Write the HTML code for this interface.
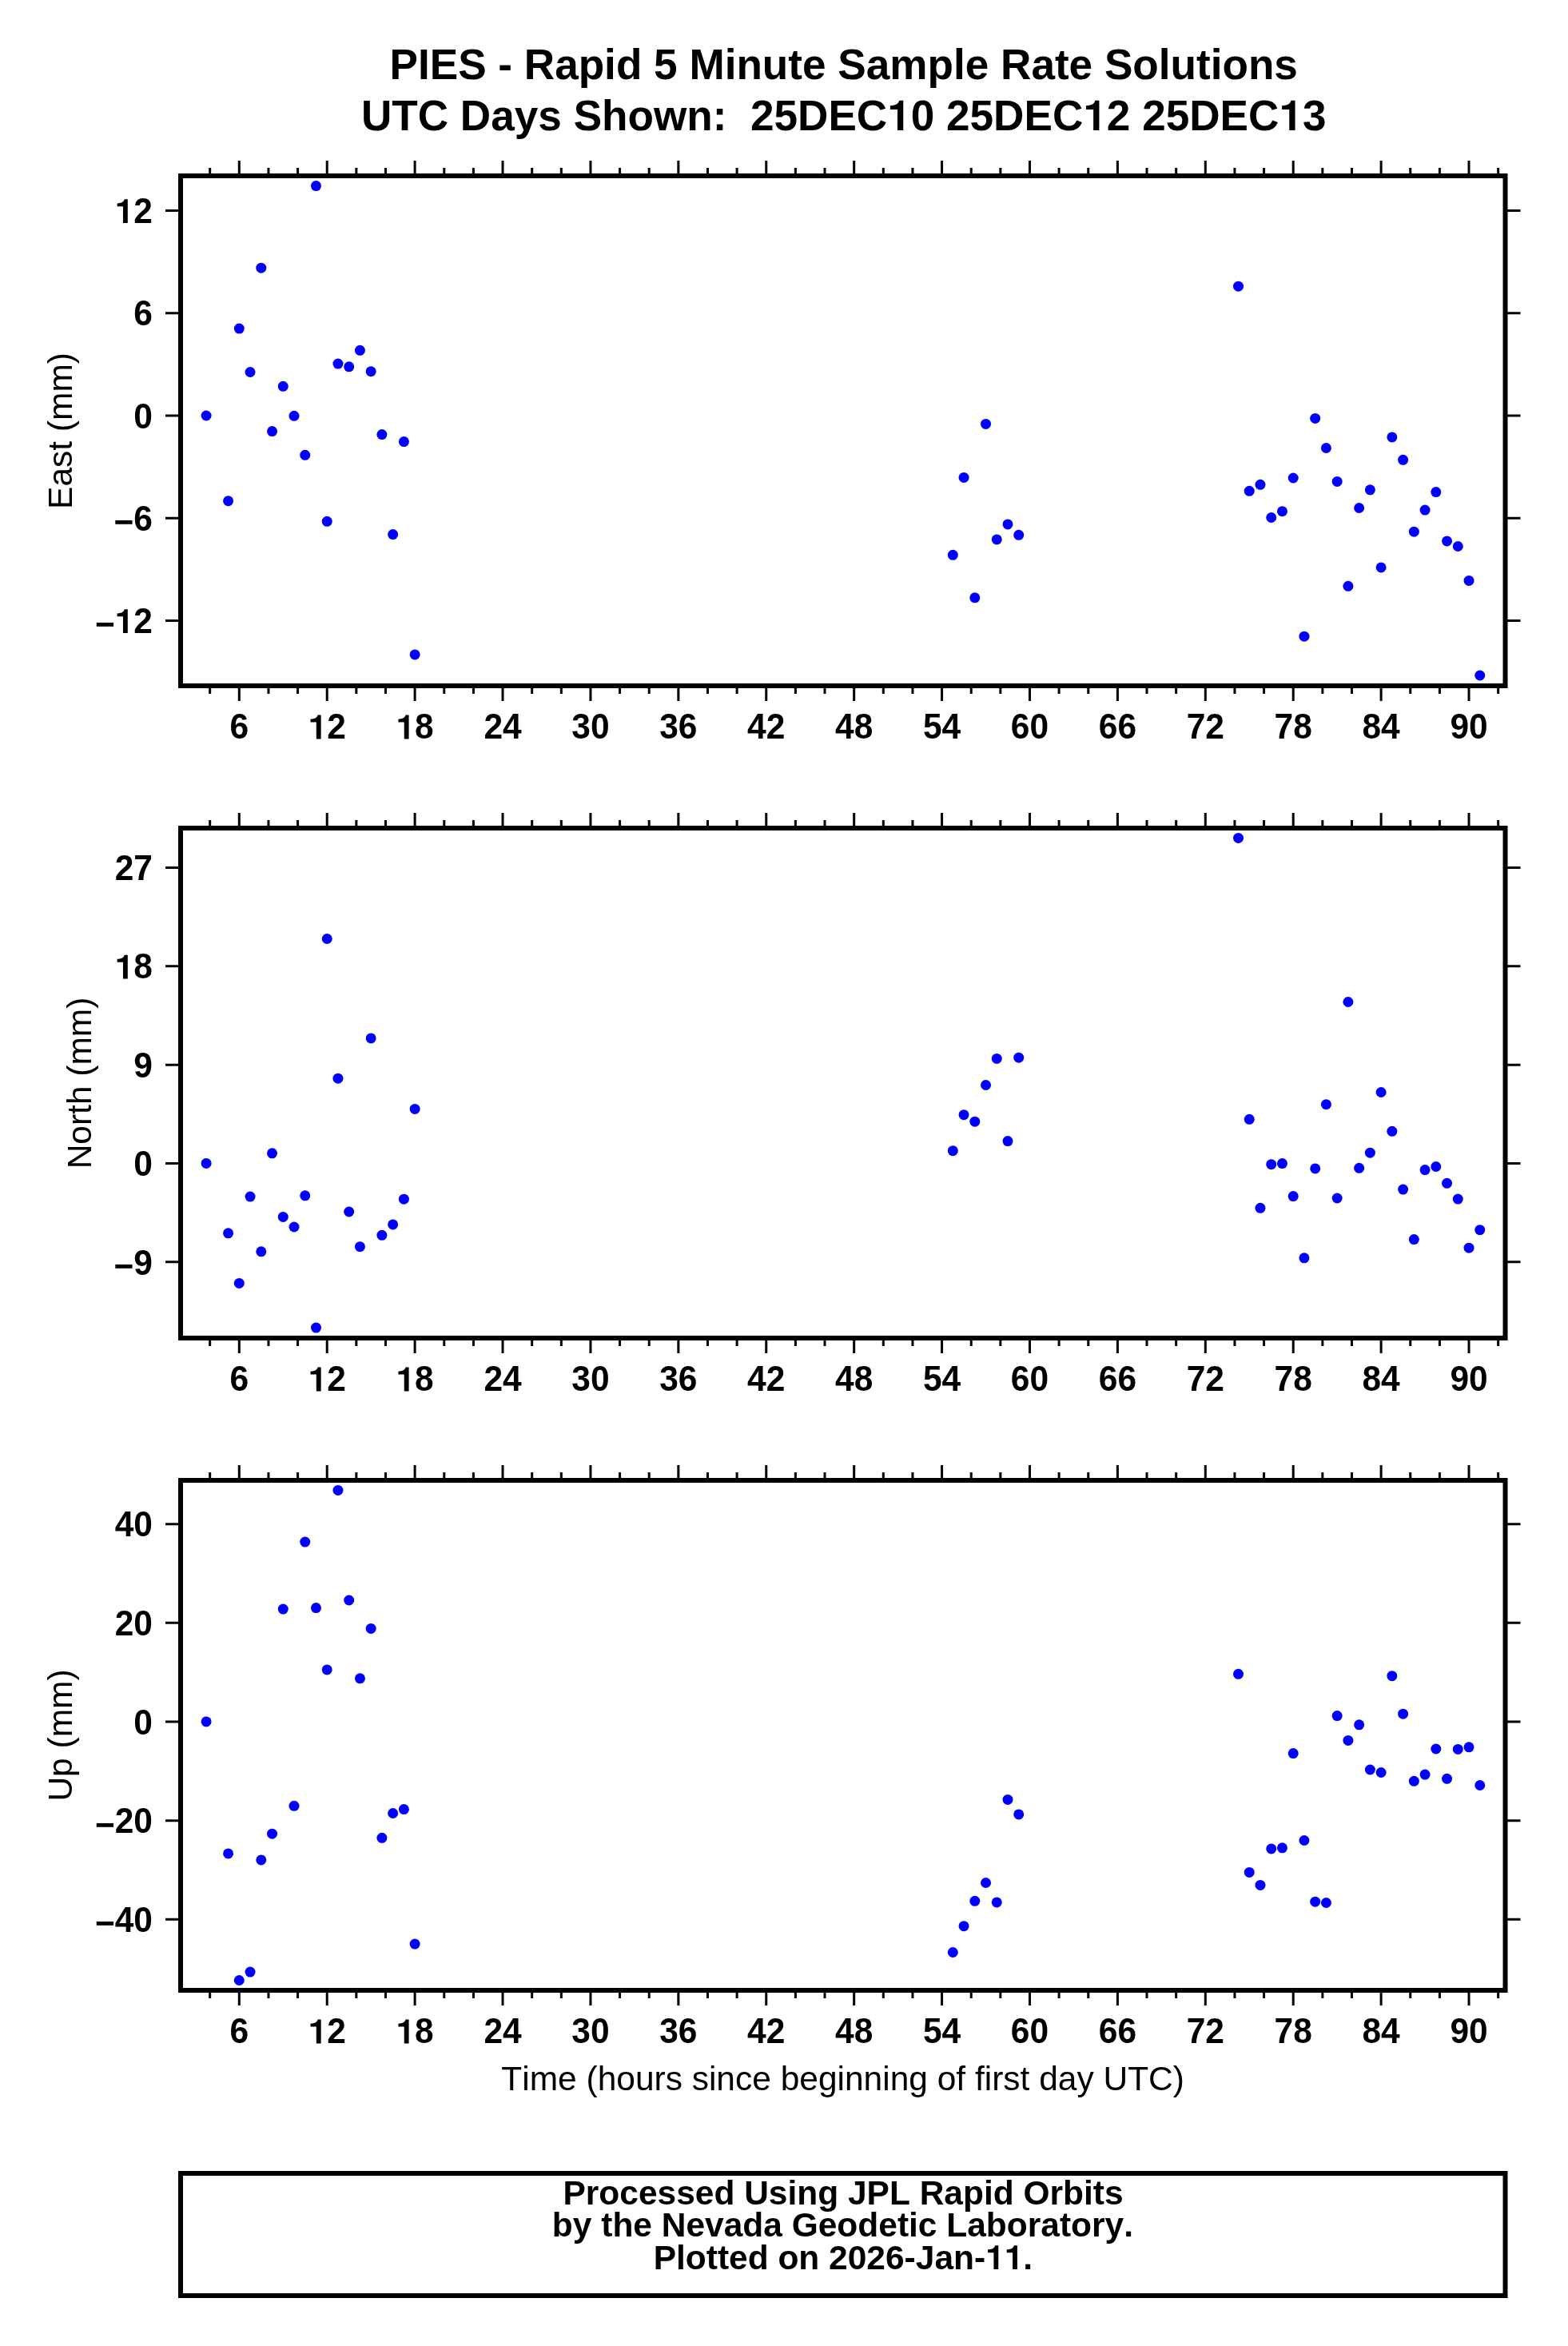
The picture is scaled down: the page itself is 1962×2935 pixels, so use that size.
<!DOCTYPE html>
<html><head><meta charset="utf-8"><title>PIES - Rapid 5 Minute Sample Rate Solutions</title>
<style>html,body{margin:0;padding:0;background:#fff;}body{width:1962px;height:2935px;overflow:hidden;}svg{display:block;will-change:transform;}text{font-family:"Liberation Sans",sans-serif;font-kerning:none;fill:#000;}.b{font-weight:bold;}</style></head><body>
<svg width="1962" height="2935" viewBox="0 0 1962 2935">
<rect x="0" y="0" width="1962" height="2935" fill="#fff"/>
<text class="b" transform="translate(1055.7,99.2) scale(1,1.02)" font-size="53.13" text-anchor="middle">PIES - Rapid 5 Minute Sample Rate Solutions</text>
<text class="b" transform="translate(1055.7,163) scale(1,1.02)" font-size="53.13" text-anchor="middle">UTC&#160;Days&#160;Shown:&#160;&#160;25DEC 0&#160;25DEC 2&#160;25DEC 3</text>
<path transform="translate(1110.19,163) scale(0.05313,-0.05313)" d="M378 0L378 702L282 702C264 635 218 588 69 581L69 490L241 490L241 0Z"/>
<path transform="translate(1355.32,163) scale(0.05313,-0.05313)" d="M378 0L378 702L282 702C264 635 218 588 69 581L69 490L241 490L241 0Z"/>
<path transform="translate(1600.45,163) scale(0.05313,-0.05313)" d="M378 0L378 702L282 702C264 635 218 588 69 581L69 490L241 490L241 0Z"/>
<path d="M262.67 220V210M262.67 858V868M299.31 220V201M299.31 858V877M335.94 220V210M335.94 858V868M372.58 220V210M372.58 858V868M409.22 220V201M409.22 858V877M445.85 220V210M445.85 858V868M482.49 220V210M482.49 858V868M519.12 220V201M519.12 858V877M555.76 220V210M555.76 858V868M592.4 220V210M592.4 858V868M629.03 220V201M629.03 858V877M665.67 220V210M665.67 858V868M702.3 220V210M702.3 858V868M738.94 220V201M738.94 858V877M775.58 220V210M775.58 858V868M812.21 220V210M812.21 858V868M848.85 220V201M848.85 858V877M885.48 220V210M885.48 858V868M922.12 220V210M922.12 858V868M958.76 220V201M958.76 858V877M995.39 220V210M995.39 858V868M1032.03 220V210M1032.03 858V868M1068.66 220V201M1068.66 858V877M1105.3 220V210M1105.3 858V868M1141.94 220V210M1141.94 858V868M1178.57 220V201M1178.57 858V877M1215.21 220V210M1215.21 858V868M1251.84 220V210M1251.84 858V868M1288.48 220V201M1288.48 858V877M1325.12 220V210M1325.12 858V868M1361.75 220V210M1361.75 858V868M1398.39 220V201M1398.39 858V877M1435.02 220V210M1435.02 858V868M1471.66 220V210M1471.66 858V868M1508.3 220V201M1508.3 858V877M1544.93 220V210M1544.93 858V868M1581.57 220V210M1581.57 858V868M1618.2 220V201M1618.2 858V877M1654.84 220V210M1654.84 858V868M1691.48 220V210M1691.48 858V868M1728.11 220V201M1728.11 858V877M1764.75 220V210M1764.75 858V868M1801.38 220V210M1801.38 858V868M1838.02 220V201M1838.02 858V877M1874.66 220V210M1874.66 858V868M226 776.4H207M1883.5 776.4H1902.5M226 648.15H207M1883.5 648.15H1902.5M226 519.9H207M1883.5 519.9H1902.5M226 391.65H207M1883.5 391.65H1902.5M226 263.4H207M1883.5 263.4H1902.5" stroke="#000" stroke-width="3" fill="none"/>
<rect x="226" y="220" width="1657.5" height="638" fill="none" stroke="#000" stroke-width="6" stroke-linejoin="miter"/>
<text class="b" transform="translate(299.31,924.4) scale(1,1.05)" font-size="42.5" text-anchor="middle">6</text>
<text class="b" transform="translate(409.22,924.4) scale(1,1.05)" font-size="42.5" text-anchor="middle"> 2</text>
<path transform="translate(385.58,924.4) scale(0.04250,-0.04250)" d="M378 0L378 702L282 702C264 635 218 588 69 581L69 490L241 490L241 0Z"/>
<text class="b" transform="translate(519.12,924.4) scale(1,1.05)" font-size="42.5" text-anchor="middle"> 8</text>
<path transform="translate(495.49,924.4) scale(0.04250,-0.04250)" d="M378 0L378 702L282 702C264 635 218 588 69 581L69 490L241 490L241 0Z"/>
<text class="b" transform="translate(629.03,924.4) scale(1,1.05)" font-size="42.5" text-anchor="middle">24</text>
<text class="b" transform="translate(738.94,924.4) scale(1,1.05)" font-size="42.5" text-anchor="middle">30</text>
<text class="b" transform="translate(848.85,924.4) scale(1,1.05)" font-size="42.5" text-anchor="middle">36</text>
<text class="b" transform="translate(958.76,924.4) scale(1,1.05)" font-size="42.5" text-anchor="middle">42</text>
<text class="b" transform="translate(1068.66,924.4) scale(1,1.05)" font-size="42.5" text-anchor="middle">48</text>
<text class="b" transform="translate(1178.57,924.4) scale(1,1.05)" font-size="42.5" text-anchor="middle">54</text>
<text class="b" transform="translate(1288.48,924.4) scale(1,1.05)" font-size="42.5" text-anchor="middle">60</text>
<text class="b" transform="translate(1398.39,924.4) scale(1,1.05)" font-size="42.5" text-anchor="middle">66</text>
<text class="b" transform="translate(1508.3,924.4) scale(1,1.05)" font-size="42.5" text-anchor="middle">72</text>
<text class="b" transform="translate(1618.2,924.4) scale(1,1.05)" font-size="42.5" text-anchor="middle">78</text>
<text class="b" transform="translate(1728.11,924.4) scale(1,1.05)" font-size="42.5" text-anchor="middle">84</text>
<text class="b" transform="translate(1838.02,924.4) scale(1,1.05)" font-size="42.5" text-anchor="middle">90</text>
<text class="b" transform="translate(191,792.1) scale(1,1.05)" font-size="42.5" text-anchor="end"><tspan dy="4.1">&#8722;</tspan><tspan dy="-4.1"> 2</tspan></text>
<path transform="translate(143.73,792.1) scale(0.04250,-0.04250)" d="M378 0L378 702L282 702C264 635 218 588 69 581L69 490L241 490L241 0Z"/>
<text class="b" transform="translate(191,663.85) scale(1,1.05)" font-size="42.5" text-anchor="end"><tspan dy="4.1">&#8722;</tspan><tspan dy="-4.1">6</tspan></text>
<text class="b" transform="translate(191,535.6) scale(1,1.05)" font-size="42.5" text-anchor="end">0</text>
<text class="b" transform="translate(191,407.35) scale(1,1.05)" font-size="42.5" text-anchor="end">6</text>
<text class="b" transform="translate(191,279.1) scale(1,1.05)" font-size="42.5" text-anchor="end"> 2</text>
<path transform="translate(143.73,279.1) scale(0.04250,-0.04250)" d="M378 0L378 702L282 702C264 635 218 588 69 581L69 490L241 490L241 0Z"/>
<text transform="translate(90.1,539) rotate(-90) scale(1,1.02)" font-size="42.5" text-anchor="middle">East (mm)</text>
<g fill="#0000ff">
<circle cx="258.09" cy="520" r="6.5"/>
<circle cx="285.57" cy="626.7" r="6.5"/>
<circle cx="299.31" cy="411.1" r="6.5"/>
<circle cx="313.05" cy="465.5" r="6.5"/>
<circle cx="326.79" cy="335.2" r="6.5"/>
<circle cx="340.52" cy="539.6" r="6.5"/>
<circle cx="354.26" cy="483.3" r="6.5"/>
<circle cx="368" cy="520.3" r="6.5"/>
<circle cx="381.74" cy="569.3" r="6.5"/>
<circle cx="395.48" cy="232.6" r="6.5"/>
<circle cx="409.22" cy="652.3" r="6.5"/>
<circle cx="422.95" cy="455.1" r="6.5"/>
<circle cx="436.69" cy="458.8" r="6.5"/>
<circle cx="450.43" cy="438.3" r="6.5"/>
<circle cx="464.17" cy="464.7" r="6.5"/>
<circle cx="477.91" cy="543.6" r="6.5"/>
<circle cx="491.65" cy="668.6" r="6.5"/>
<circle cx="505.39" cy="552.6" r="6.5"/>
<circle cx="519.12" cy="818.9" r="6.5"/>
<circle cx="1192.31" cy="694.3" r="6.5"/>
<circle cx="1206.05" cy="597.4" r="6.5"/>
<circle cx="1219.79" cy="747.8" r="6.5"/>
<circle cx="1233.53" cy="530.4" r="6.5"/>
<circle cx="1247.26" cy="674.9" r="6.5"/>
<circle cx="1261" cy="655.9" r="6.5"/>
<circle cx="1274.74" cy="669.3" r="6.5"/>
<circle cx="1549.51" cy="358.2" r="6.5"/>
<circle cx="1563.25" cy="614.3" r="6.5"/>
<circle cx="1576.99" cy="606.3" r="6.5"/>
<circle cx="1590.73" cy="647.5" r="6.5"/>
<circle cx="1604.47" cy="639.7" r="6.5"/>
<circle cx="1618.2" cy="598" r="6.5"/>
<circle cx="1631.94" cy="796.2" r="6.5"/>
<circle cx="1645.68" cy="523.4" r="6.5"/>
<circle cx="1659.42" cy="560.5" r="6.5"/>
<circle cx="1673.16" cy="602.4" r="6.5"/>
<circle cx="1686.9" cy="733.3" r="6.5"/>
<circle cx="1700.64" cy="635.5" r="6.5"/>
<circle cx="1714.37" cy="612.8" r="6.5"/>
<circle cx="1728.11" cy="709.9" r="6.5"/>
<circle cx="1741.85" cy="546.9" r="6.5"/>
<circle cx="1755.59" cy="575.3" r="6.5"/>
<circle cx="1769.33" cy="665.2" r="6.5"/>
<circle cx="1783.07" cy="638.1" r="6.5"/>
<circle cx="1796.8" cy="615.6" r="6.5"/>
<circle cx="1810.54" cy="676.9" r="6.5"/>
<circle cx="1824.28" cy="683.5" r="6.5"/>
<circle cx="1838.02" cy="726.4" r="6.5"/>
<circle cx="1851.76" cy="845" r="6.5"/>
</g>
<path d="M262.67 1036V1026M262.67 1674V1684M299.31 1036V1017M299.31 1674V1693M335.94 1036V1026M335.94 1674V1684M372.58 1036V1026M372.58 1674V1684M409.22 1036V1017M409.22 1674V1693M445.85 1036V1026M445.85 1674V1684M482.49 1036V1026M482.49 1674V1684M519.12 1036V1017M519.12 1674V1693M555.76 1036V1026M555.76 1674V1684M592.4 1036V1026M592.4 1674V1684M629.03 1036V1017M629.03 1674V1693M665.67 1036V1026M665.67 1674V1684M702.3 1036V1026M702.3 1674V1684M738.94 1036V1017M738.94 1674V1693M775.58 1036V1026M775.58 1674V1684M812.21 1036V1026M812.21 1674V1684M848.85 1036V1017M848.85 1674V1693M885.48 1036V1026M885.48 1674V1684M922.12 1036V1026M922.12 1674V1684M958.76 1036V1017M958.76 1674V1693M995.39 1036V1026M995.39 1674V1684M1032.03 1036V1026M1032.03 1674V1684M1068.66 1036V1017M1068.66 1674V1693M1105.3 1036V1026M1105.3 1674V1684M1141.94 1036V1026M1141.94 1674V1684M1178.57 1036V1017M1178.57 1674V1693M1215.21 1036V1026M1215.21 1674V1684M1251.84 1036V1026M1251.84 1674V1684M1288.48 1036V1017M1288.48 1674V1693M1325.12 1036V1026M1325.12 1674V1684M1361.75 1036V1026M1361.75 1674V1684M1398.39 1036V1017M1398.39 1674V1693M1435.02 1036V1026M1435.02 1674V1684M1471.66 1036V1026M1471.66 1674V1684M1508.3 1036V1017M1508.3 1674V1693M1544.93 1036V1026M1544.93 1674V1684M1581.57 1036V1026M1581.57 1674V1684M1618.2 1036V1017M1618.2 1674V1693M1654.84 1036V1026M1654.84 1674V1684M1691.48 1036V1026M1691.48 1674V1684M1728.11 1036V1017M1728.11 1674V1693M1764.75 1036V1026M1764.75 1674V1684M1801.38 1036V1026M1801.38 1674V1684M1838.02 1036V1017M1838.02 1674V1693M1874.66 1036V1026M1874.66 1674V1684M226 1578.85H207M1883.5 1578.85H1902.5M226 1455.5H207M1883.5 1455.5H1902.5M226 1332.15H207M1883.5 1332.15H1902.5M226 1208.79H207M1883.5 1208.79H1902.5M226 1085.44H207M1883.5 1085.44H1902.5" stroke="#000" stroke-width="3" fill="none"/>
<rect x="226" y="1036" width="1657.5" height="638" fill="none" stroke="#000" stroke-width="6" stroke-linejoin="miter"/>
<text class="b" transform="translate(299.31,1740.4) scale(1,1.05)" font-size="42.5" text-anchor="middle">6</text>
<text class="b" transform="translate(409.22,1740.4) scale(1,1.05)" font-size="42.5" text-anchor="middle"> 2</text>
<path transform="translate(385.58,1740.4) scale(0.04250,-0.04250)" d="M378 0L378 702L282 702C264 635 218 588 69 581L69 490L241 490L241 0Z"/>
<text class="b" transform="translate(519.12,1740.4) scale(1,1.05)" font-size="42.5" text-anchor="middle"> 8</text>
<path transform="translate(495.49,1740.4) scale(0.04250,-0.04250)" d="M378 0L378 702L282 702C264 635 218 588 69 581L69 490L241 490L241 0Z"/>
<text class="b" transform="translate(629.03,1740.4) scale(1,1.05)" font-size="42.5" text-anchor="middle">24</text>
<text class="b" transform="translate(738.94,1740.4) scale(1,1.05)" font-size="42.5" text-anchor="middle">30</text>
<text class="b" transform="translate(848.85,1740.4) scale(1,1.05)" font-size="42.5" text-anchor="middle">36</text>
<text class="b" transform="translate(958.76,1740.4) scale(1,1.05)" font-size="42.5" text-anchor="middle">42</text>
<text class="b" transform="translate(1068.66,1740.4) scale(1,1.05)" font-size="42.5" text-anchor="middle">48</text>
<text class="b" transform="translate(1178.57,1740.4) scale(1,1.05)" font-size="42.5" text-anchor="middle">54</text>
<text class="b" transform="translate(1288.48,1740.4) scale(1,1.05)" font-size="42.5" text-anchor="middle">60</text>
<text class="b" transform="translate(1398.39,1740.4) scale(1,1.05)" font-size="42.5" text-anchor="middle">66</text>
<text class="b" transform="translate(1508.3,1740.4) scale(1,1.05)" font-size="42.5" text-anchor="middle">72</text>
<text class="b" transform="translate(1618.2,1740.4) scale(1,1.05)" font-size="42.5" text-anchor="middle">78</text>
<text class="b" transform="translate(1728.11,1740.4) scale(1,1.05)" font-size="42.5" text-anchor="middle">84</text>
<text class="b" transform="translate(1838.02,1740.4) scale(1,1.05)" font-size="42.5" text-anchor="middle">90</text>
<text class="b" transform="translate(191,1594.55) scale(1,1.05)" font-size="42.5" text-anchor="end"><tspan dy="4.1">&#8722;</tspan><tspan dy="-4.1">9</tspan></text>
<text class="b" transform="translate(191,1471.2) scale(1,1.05)" font-size="42.5" text-anchor="end">0</text>
<text class="b" transform="translate(191,1347.85) scale(1,1.05)" font-size="42.5" text-anchor="end">9</text>
<text class="b" transform="translate(191,1224.49) scale(1,1.05)" font-size="42.5" text-anchor="end"> 8</text>
<path transform="translate(143.73,1224.49) scale(0.04250,-0.04250)" d="M378 0L378 702L282 702C264 635 218 588 69 581L69 490L241 490L241 0Z"/>
<text class="b" transform="translate(191,1101.14) scale(1,1.05)" font-size="42.5" text-anchor="end">27</text>
<text transform="translate(114,1355) rotate(-90) scale(1,1.02)" font-size="42.5" text-anchor="middle">North (mm)</text>
<g fill="#0000ff">
<circle cx="258.09" cy="1455.4" r="6.5"/>
<circle cx="285.57" cy="1542.8" r="6.5"/>
<circle cx="299.31" cy="1605.4" r="6.5"/>
<circle cx="313.05" cy="1497.1" r="6.5"/>
<circle cx="326.79" cy="1565.8" r="6.5"/>
<circle cx="340.52" cy="1442.8" r="6.5"/>
<circle cx="354.26" cy="1522.4" r="6.5"/>
<circle cx="368" cy="1535" r="6.5"/>
<circle cx="381.74" cy="1495.8" r="6.5"/>
<circle cx="395.48" cy="1661.1" r="6.5"/>
<circle cx="409.22" cy="1174.5" r="6.5"/>
<circle cx="422.95" cy="1349.2" r="6.5"/>
<circle cx="436.69" cy="1516" r="6.5"/>
<circle cx="450.43" cy="1559.7" r="6.5"/>
<circle cx="464.17" cy="1298.9" r="6.5"/>
<circle cx="477.91" cy="1545.3" r="6.5"/>
<circle cx="491.65" cy="1531.9" r="6.5"/>
<circle cx="505.39" cy="1500.2" r="6.5"/>
<circle cx="519.12" cy="1387.4" r="6.5"/>
<circle cx="1192.31" cy="1439.7" r="6.5"/>
<circle cx="1206.05" cy="1394.7" r="6.5"/>
<circle cx="1219.79" cy="1403.2" r="6.5"/>
<circle cx="1233.53" cy="1357.5" r="6.5"/>
<circle cx="1247.26" cy="1324.4" r="6.5"/>
<circle cx="1261" cy="1427.6" r="6.5"/>
<circle cx="1274.74" cy="1323.2" r="6.5"/>
<circle cx="1549.51" cy="1048.4" r="6.5"/>
<circle cx="1563.25" cy="1400.3" r="6.5"/>
<circle cx="1576.99" cy="1511.3" r="6.5"/>
<circle cx="1590.73" cy="1456.7" r="6.5"/>
<circle cx="1604.47" cy="1455.6" r="6.5"/>
<circle cx="1618.2" cy="1496.6" r="6.5"/>
<circle cx="1631.94" cy="1573.8" r="6.5"/>
<circle cx="1645.68" cy="1461.9" r="6.5"/>
<circle cx="1659.42" cy="1381.7" r="6.5"/>
<circle cx="1673.16" cy="1499" r="6.5"/>
<circle cx="1686.9" cy="1253.5" r="6.5"/>
<circle cx="1700.64" cy="1461.3" r="6.5"/>
<circle cx="1714.37" cy="1442.2" r="6.5"/>
<circle cx="1728.11" cy="1366.5" r="6.5"/>
<circle cx="1741.85" cy="1415.3" r="6.5"/>
<circle cx="1755.59" cy="1488.1" r="6.5"/>
<circle cx="1769.33" cy="1550.6" r="6.5"/>
<circle cx="1783.07" cy="1463.6" r="6.5"/>
<circle cx="1796.8" cy="1459.5" r="6.5"/>
<circle cx="1810.54" cy="1480.3" r="6.5"/>
<circle cx="1824.28" cy="1500.1" r="6.5"/>
<circle cx="1838.02" cy="1561.2" r="6.5"/>
<circle cx="1851.76" cy="1538.7" r="6.5"/>
</g>
<path d="M262.67 1852V1842M262.67 2490V2500M299.31 1852V1833M299.31 2490V2509M335.94 1852V1842M335.94 2490V2500M372.58 1852V1842M372.58 2490V2500M409.22 1852V1833M409.22 2490V2509M445.85 1852V1842M445.85 2490V2500M482.49 1852V1842M482.49 2490V2500M519.12 1852V1833M519.12 2490V2509M555.76 1852V1842M555.76 2490V2500M592.4 1852V1842M592.4 2490V2500M629.03 1852V1833M629.03 2490V2509M665.67 1852V1842M665.67 2490V2500M702.3 1852V1842M702.3 2490V2500M738.94 1852V1833M738.94 2490V2509M775.58 1852V1842M775.58 2490V2500M812.21 1852V1842M812.21 2490V2500M848.85 1852V1833M848.85 2490V2509M885.48 1852V1842M885.48 2490V2500M922.12 1852V1842M922.12 2490V2500M958.76 1852V1833M958.76 2490V2509M995.39 1852V1842M995.39 2490V2500M1032.03 1852V1842M1032.03 2490V2500M1068.66 1852V1833M1068.66 2490V2509M1105.3 1852V1842M1105.3 2490V2500M1141.94 1852V1842M1141.94 2490V2500M1178.57 1852V1833M1178.57 2490V2509M1215.21 1852V1842M1215.21 2490V2500M1251.84 1852V1842M1251.84 2490V2500M1288.48 1852V1833M1288.48 2490V2509M1325.12 1852V1842M1325.12 2490V2500M1361.75 1852V1842M1361.75 2490V2500M1398.39 1852V1833M1398.39 2490V2509M1435.02 1852V1842M1435.02 2490V2500M1471.66 1852V1842M1471.66 2490V2500M1508.3 1852V1833M1508.3 2490V2509M1544.93 1852V1842M1544.93 2490V2500M1581.57 1852V1842M1581.57 2490V2500M1618.2 1852V1833M1618.2 2490V2509M1654.84 1852V1842M1654.84 2490V2500M1691.48 1852V1842M1691.48 2490V2500M1728.11 1852V1833M1728.11 2490V2509M1764.75 1852V1842M1764.75 2490V2500M1801.38 1852V1842M1801.38 2490V2500M1838.02 1852V1833M1838.02 2490V2509M1874.66 1852V1842M1874.66 2490V2500M226 2401.36H207M1883.5 2401.36H1902.5M226 2277.68H207M1883.5 2277.68H1902.5M226 2154H207M1883.5 2154H1902.5M226 2030.32H207M1883.5 2030.32H1902.5M226 1906.64H207M1883.5 1906.64H1902.5" stroke="#000" stroke-width="3" fill="none"/>
<rect x="226" y="1852" width="1657.5" height="638" fill="none" stroke="#000" stroke-width="6" stroke-linejoin="miter"/>
<text class="b" transform="translate(299.31,2556.4) scale(1,1.05)" font-size="42.5" text-anchor="middle">6</text>
<text class="b" transform="translate(409.22,2556.4) scale(1,1.05)" font-size="42.5" text-anchor="middle"> 2</text>
<path transform="translate(385.58,2556.4) scale(0.04250,-0.04250)" d="M378 0L378 702L282 702C264 635 218 588 69 581L69 490L241 490L241 0Z"/>
<text class="b" transform="translate(519.12,2556.4) scale(1,1.05)" font-size="42.5" text-anchor="middle"> 8</text>
<path transform="translate(495.49,2556.4) scale(0.04250,-0.04250)" d="M378 0L378 702L282 702C264 635 218 588 69 581L69 490L241 490L241 0Z"/>
<text class="b" transform="translate(629.03,2556.4) scale(1,1.05)" font-size="42.5" text-anchor="middle">24</text>
<text class="b" transform="translate(738.94,2556.4) scale(1,1.05)" font-size="42.5" text-anchor="middle">30</text>
<text class="b" transform="translate(848.85,2556.4) scale(1,1.05)" font-size="42.5" text-anchor="middle">36</text>
<text class="b" transform="translate(958.76,2556.4) scale(1,1.05)" font-size="42.5" text-anchor="middle">42</text>
<text class="b" transform="translate(1068.66,2556.4) scale(1,1.05)" font-size="42.5" text-anchor="middle">48</text>
<text class="b" transform="translate(1178.57,2556.4) scale(1,1.05)" font-size="42.5" text-anchor="middle">54</text>
<text class="b" transform="translate(1288.48,2556.4) scale(1,1.05)" font-size="42.5" text-anchor="middle">60</text>
<text class="b" transform="translate(1398.39,2556.4) scale(1,1.05)" font-size="42.5" text-anchor="middle">66</text>
<text class="b" transform="translate(1508.3,2556.4) scale(1,1.05)" font-size="42.5" text-anchor="middle">72</text>
<text class="b" transform="translate(1618.2,2556.4) scale(1,1.05)" font-size="42.5" text-anchor="middle">78</text>
<text class="b" transform="translate(1728.11,2556.4) scale(1,1.05)" font-size="42.5" text-anchor="middle">84</text>
<text class="b" transform="translate(1838.02,2556.4) scale(1,1.05)" font-size="42.5" text-anchor="middle">90</text>
<text class="b" transform="translate(191,2417.06) scale(1,1.05)" font-size="42.5" text-anchor="end"><tspan dy="4.1">&#8722;</tspan><tspan dy="-4.1">40</tspan></text>
<text class="b" transform="translate(191,2293.38) scale(1,1.05)" font-size="42.5" text-anchor="end"><tspan dy="4.1">&#8722;</tspan><tspan dy="-4.1">20</tspan></text>
<text class="b" transform="translate(191,2169.7) scale(1,1.05)" font-size="42.5" text-anchor="end">0</text>
<text class="b" transform="translate(191,2046.02) scale(1,1.05)" font-size="42.5" text-anchor="end">20</text>
<text class="b" transform="translate(191,1922.34) scale(1,1.05)" font-size="42.5" text-anchor="end">40</text>
<text transform="translate(90,2171) rotate(-90) scale(1,1.02)" font-size="42.5" text-anchor="middle">Up (mm)</text>
<g fill="#0000ff">
<circle cx="258.09" cy="2153.9" r="6.5"/>
<circle cx="285.57" cy="2318.9" r="6.5"/>
<circle cx="299.31" cy="2477.5" r="6.5"/>
<circle cx="313.05" cy="2467.1" r="6.5"/>
<circle cx="326.79" cy="2326.9" r="6.5"/>
<circle cx="340.52" cy="2294.2" r="6.5"/>
<circle cx="354.26" cy="2013.1" r="6.5"/>
<circle cx="368" cy="2259.3" r="6.5"/>
<circle cx="381.74" cy="1929.1" r="6.5"/>
<circle cx="395.48" cy="2011.6" r="6.5"/>
<circle cx="409.22" cy="2088.9" r="6.5"/>
<circle cx="422.95" cy="1864.4" r="6.5"/>
<circle cx="436.69" cy="2002" r="6.5"/>
<circle cx="450.43" cy="2099.8" r="6.5"/>
<circle cx="464.17" cy="2037.4" r="6.5"/>
<circle cx="477.91" cy="2299.3" r="6.5"/>
<circle cx="491.65" cy="2268.5" r="6.5"/>
<circle cx="505.39" cy="2263.6" r="6.5"/>
<circle cx="519.12" cy="2432.1" r="6.5"/>
<circle cx="1192.31" cy="2442.5" r="6.5"/>
<circle cx="1206.05" cy="2409.7" r="6.5"/>
<circle cx="1219.79" cy="2378.3" r="6.5"/>
<circle cx="1233.53" cy="2355.5" r="6.5"/>
<circle cx="1247.26" cy="2379.9" r="6.5"/>
<circle cx="1261" cy="2251.4" r="6.5"/>
<circle cx="1274.74" cy="2269.9" r="6.5"/>
<circle cx="1549.51" cy="2094.3" r="6.5"/>
<circle cx="1563.25" cy="2342.4" r="6.5"/>
<circle cx="1576.99" cy="2358.4" r="6.5"/>
<circle cx="1590.73" cy="2312.9" r="6.5"/>
<circle cx="1604.47" cy="2311.8" r="6.5"/>
<circle cx="1618.2" cy="2193.6" r="6.5"/>
<circle cx="1631.94" cy="2302.5" r="6.5"/>
<circle cx="1645.68" cy="2379.2" r="6.5"/>
<circle cx="1659.42" cy="2380.5" r="6.5"/>
<circle cx="1673.16" cy="2146.6" r="6.5"/>
<circle cx="1686.9" cy="2177.4" r="6.5"/>
<circle cx="1700.64" cy="2157.8" r="6.5"/>
<circle cx="1714.37" cy="2214" r="6.5"/>
<circle cx="1728.11" cy="2217.5" r="6.5"/>
<circle cx="1741.85" cy="2096.7" r="6.5"/>
<circle cx="1755.59" cy="2144.2" r="6.5"/>
<circle cx="1769.33" cy="2228.3" r="6.5"/>
<circle cx="1783.07" cy="2220.1" r="6.5"/>
<circle cx="1796.8" cy="2188" r="6.5"/>
<circle cx="1810.54" cy="2225.3" r="6.5"/>
<circle cx="1824.28" cy="2188.4" r="6.5"/>
<circle cx="1838.02" cy="2185.8" r="6.5"/>
<circle cx="1851.76" cy="2233.5" r="6.5"/>
</g>
<text transform="translate(1054.6,2614.9) scale(1,1.02)" font-size="42.5" text-anchor="middle">Time (hours since beginning of first day UTC)</text>
<rect x="226" y="2719" width="1657.5" height="153" fill="none" stroke="#000" stroke-width="6"/>
<text class="b" transform="translate(1055,2757.9) scale(1,1.02)" font-size="42.5" text-anchor="middle">Processed Using JPL Rapid Orbits</text>
<text class="b" transform="translate(1054.4,2797.9) scale(1,1.02)" font-size="42.5" text-anchor="middle">by the Nevada Geodetic Laboratory.</text>
<text class="b" transform="translate(1054.9,2839) scale(1,1.02)" font-size="42.5" text-anchor="middle">Plotted on 2026-Jan-  .</text>
<path transform="translate(1233.18,2839) scale(0.04250,-0.04250)" d="M378 0L378 702L282 702C264 635 218 588 69 581L69 490L241 490L241 0Z"/>
<path transform="translate(1256.82,2839) scale(0.04250,-0.04250)" d="M378 0L378 702L282 702C264 635 218 588 69 581L69 490L241 490L241 0Z"/>
</svg></body></html>
